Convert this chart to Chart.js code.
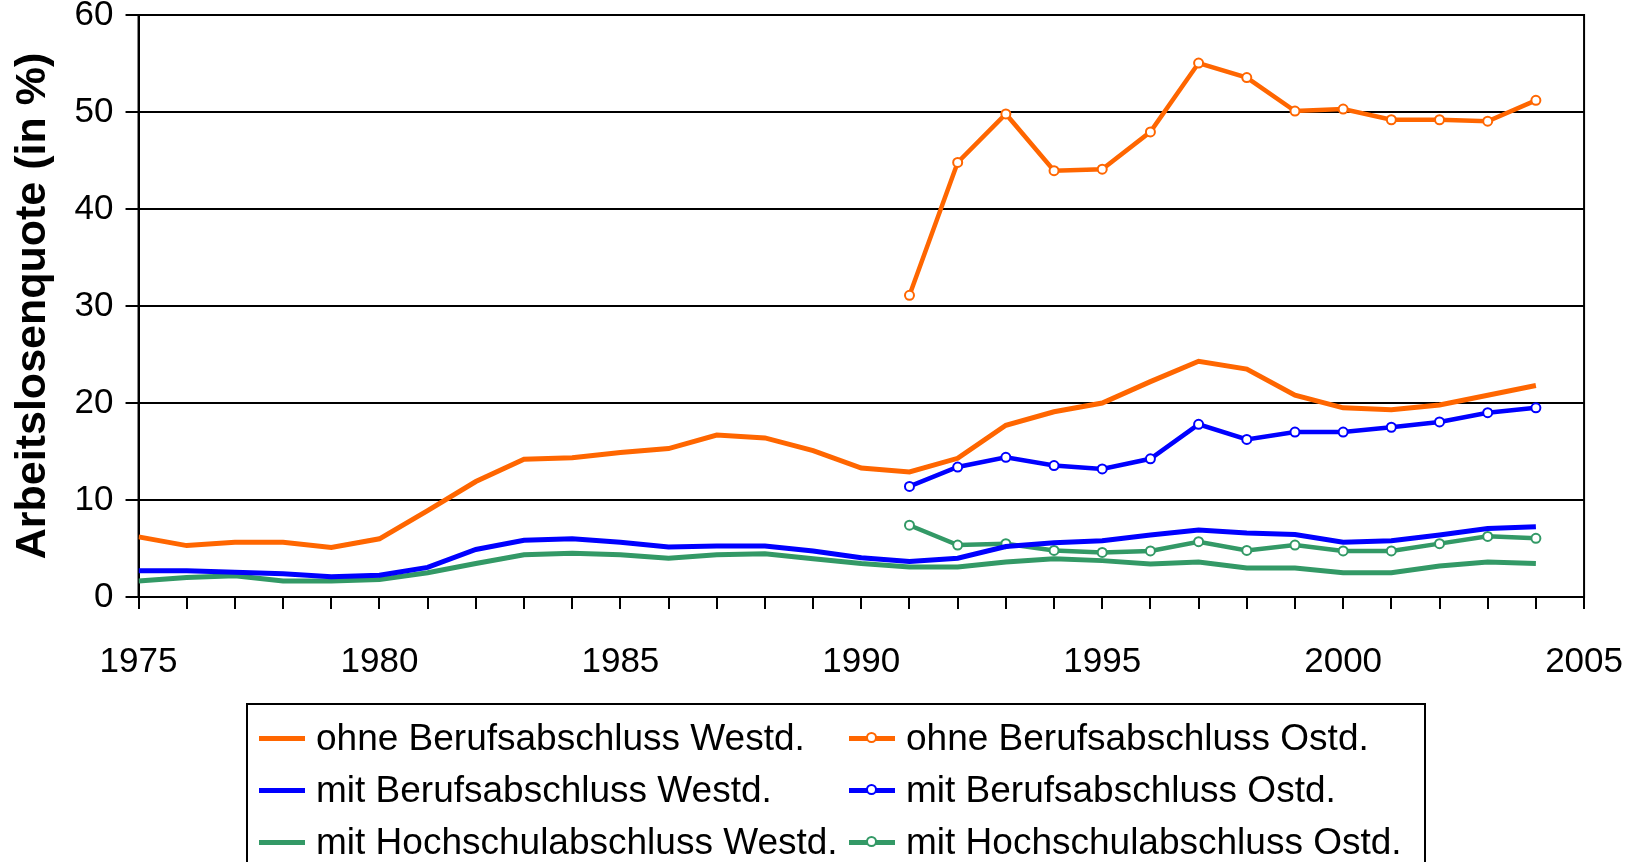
<!DOCTYPE html>
<html>
<head>
<meta charset="utf-8">
<script src="https://cdn.jsdelivr.net/npm/chart.js@4/dist/chart.umd.min.js"></script>
<style>
  html, body { margin: 0; padding: 0; background: #fff; overflow: hidden; }
  body { width: 1647px; height: 862px; position: relative; font-family: "Liberation Sans", Arial, sans-serif; overflow: hidden; }
  #wrap { position: absolute; left: 0; top: -18px; width: 1655px; height: 743px; }
  #legend {
    position: absolute; left: 246px; top: 703px; width: 1180px; height: 220px;
    box-sizing: border-box; border: 2px solid #000; padding-top: 7px;
    display: grid; grid-template-columns: 590px auto; grid-auto-rows: 52px;
  }
  .item { display: flex; align-items: center; font-size: 37px; color: #000; white-space: nowrap; }
  .sample { position: relative; width: 46px; height: 5px; margin-left: 11px; margin-right: 11px; }
  .dot { position: absolute; left: 17px; top: -4px; width: 7px; height: 7px; border-radius: 50%; background: #fff; border: 2px solid; }
</style>
</head>
<body>
<div id="wrap"><canvas id="chart"></canvas></div>
<div id="legend"></div>
<script>
// Jahre
const yearsWest = [1975, 1976, 1977, 1978, 1979, 1980, 1981, 1982, 1983, 1984, 1985, 1986, 1987, 1988, 1989,
                   1990, 1991, 1992, 1993, 1994, 1995, 1996, 1997, 1998, 1999, 2000, 2001, 2002, 2003, 2004];
const yearsOst = [1991, 1992, 1993, 1994, 1995, 1996, 1997, 1998, 1999, 2000, 2001, 2002, 2003, 2004];

// Arbeitslosenquoten (in %)
const ohneWest = [6.2, 5.3, 5.65, 5.65, 5.1, 6.0, 8.9, 11.9, 14.2, 14.35, 14.9, 15.3, 16.7, 16.4, 15.1,
                  13.3, 12.9, 14.3, 17.7, 19.1, 20.0, 22.2, 24.3, 23.5, 20.8, 19.5, 19.3, 19.8, 20.8, 21.8];
const mitWest = [2.7, 2.7, 2.55, 2.4, 2.1, 2.25, 3.05, 4.9, 5.85, 6.0, 5.65, 5.15, 5.25, 5.25, 4.75,
                 4.05, 3.65, 4.0, 5.2, 5.6, 5.8, 6.4, 6.9, 6.6, 6.45, 5.65, 5.8, 6.4, 7.05, 7.25];
const hochWest = [1.65, 2.0, 2.2, 1.65, 1.65, 1.8, 2.5, 3.45, 4.35, 4.5, 4.35, 4.0, 4.35, 4.45, 3.95,
                  3.45, 3.1, 3.1, 3.6, 3.95, 3.75, 3.4, 3.6, 3.0, 3.0, 2.5, 2.5, 3.2, 3.6, 3.45];
const ohneOst = [31.1, 44.8, 49.8, 43.95, 44.1, 47.95, 55.05, 53.55, 50.1, 50.3, 49.2, 49.2, 49.05, 51.2];
const mitOst = [11.4, 13.4, 14.4, 13.55, 13.2, 14.25, 17.8, 16.25, 17.0, 17.0, 17.5, 18.05, 19.0, 19.5];
const hochOst = [7.4, 5.35, 5.5, 4.8, 4.6, 4.75, 5.7, 4.8, 5.35, 4.75, 4.75, 5.5, 6.25, 6.05];

const yTicks = [0, 10, 20, 30, 40, 50, 60];
const xLabelYears = [1975, 1980, 1985, 1990, 1995, 2000, 2005];

const ORANGE = '#FF6600';
const BLUE = '#0000FF';
const GREEN = '#339966';
const FONT = '"Liberation Sans", Arial, sans-serif';

const toPoints = (years, vals) => years.map((y, i) => ({ x: y, y: vals[i] }));

function westSet(label, years, vals, color) {
  return {
    label, data: toPoints(years, vals), borderColor: color, backgroundColor: color,
    borderWidth: 5, pointRadius: 0, tension: 0, marker: false
  };
}
function ostSet(label, years, vals, color) {
  return {
    label, data: toPoints(years, vals), borderColor: color, backgroundColor: '#fff',
    borderWidth: 4.5, pointRadius: 4.5, pointBorderWidth: 2, pointBackgroundColor: '#fff',
    pointBorderColor: color, tension: 0, marker: true
  };
}

// Reihenfolge wie in der Legende (zeilenweise)
const datasets = [
  westSet('ohne Berufsabschluss Westd.', yearsWest, ohneWest, ORANGE),
  ostSet('ohne Berufsabschluss Ostd.', yearsOst, ohneOst, ORANGE),
  westSet('mit Berufsabschluss Westd.', yearsWest, mitWest, BLUE),
  ostSet('mit Berufsabschluss Ostd.', yearsOst, mitOst, BLUE),
  westSet('mit Hochschulabschluss Westd.', yearsWest, hochWest, GREEN),
  ostSet('mit Hochschulabschluss Ostd.', yearsOst, hochOst, GREEN)
];

// Rahmen oben/rechts
const frame = {
  id: 'frame',
  beforeDatasetsDraw(chart) {
    const { ctx, chartArea: a } = chart;
    ctx.save();
    ctx.strokeStyle = '#000';
    ctx.lineWidth = 2;
    ctx.strokeRect(a.left, a.top, a.right - a.left, a.bottom - a.top);
    ctx.restore();
  }
};

const chart = new Chart(document.getElementById('chart'), {
  type: 'line',
  data: { datasets },
  options: {
    responsive: true,
    maintainAspectRatio: false,
    animation: false,
    layout: { padding: { top: 14, right: 52, left: 3, bottom: 10 } },
    scales: {
      x: {
        type: 'linear', min: 1975, max: 2005,
        afterBuildTicks: (axis) => { axis.ticks = yearsWest.concat([2005]).map(v => ({ value: v })); },
        ticks: {
          autoSkip: false, maxRotation: 0, padding: 32, color: '#000',
          font: { family: FONT, size: 35 },
          callback: (v) => xLabelYears.includes(v) ? String(v) : ''
        },
        grid: { drawOnChartArea: false, color: '#000', lineWidth: 2, tickLength: 12 },
        border: { display: true, color: '#000', width: 2 }
      },
      y: {
        min: 0, max: 60,
        afterBuildTicks: (axis) => { axis.ticks = yTicks.map(v => ({ value: v })); },
        ticks: { padding: 12, color: '#000', font: { family: FONT, size: 35 } },
        grid: { color: '#000', lineWidth: 2, tickLength: 13 },
        border: { display: true, color: '#000', width: 2 },
        title: {
          display: true, text: 'Arbeitslosenquote (in %)', color: '#000', padding: 4,
          font: { family: FONT, size: 43, weight: 'bold' }
        }
      }
    },
    plugins: { legend: { display: false }, tooltip: { enabled: false } }
  },
  plugins: [frame]
});

// HTML-Legende aus den Datensätzen
const legendEl = document.getElementById('legend');
chart.data.datasets.forEach(ds => {
  const item = document.createElement('div');
  item.className = 'item';
  const sample = document.createElement('span');
  sample.className = 'sample';
  sample.style.background = ds.borderColor;
  if (ds.marker) {
    const dot = document.createElement('span');
    dot.className = 'dot';
    dot.style.borderColor = ds.borderColor;
    sample.appendChild(dot);
  }
  const text = document.createElement('span');
  text.textContent = ds.label;
  item.appendChild(sample);
  item.appendChild(text);
  legendEl.appendChild(item);
});
</script>
</body>
</html>
